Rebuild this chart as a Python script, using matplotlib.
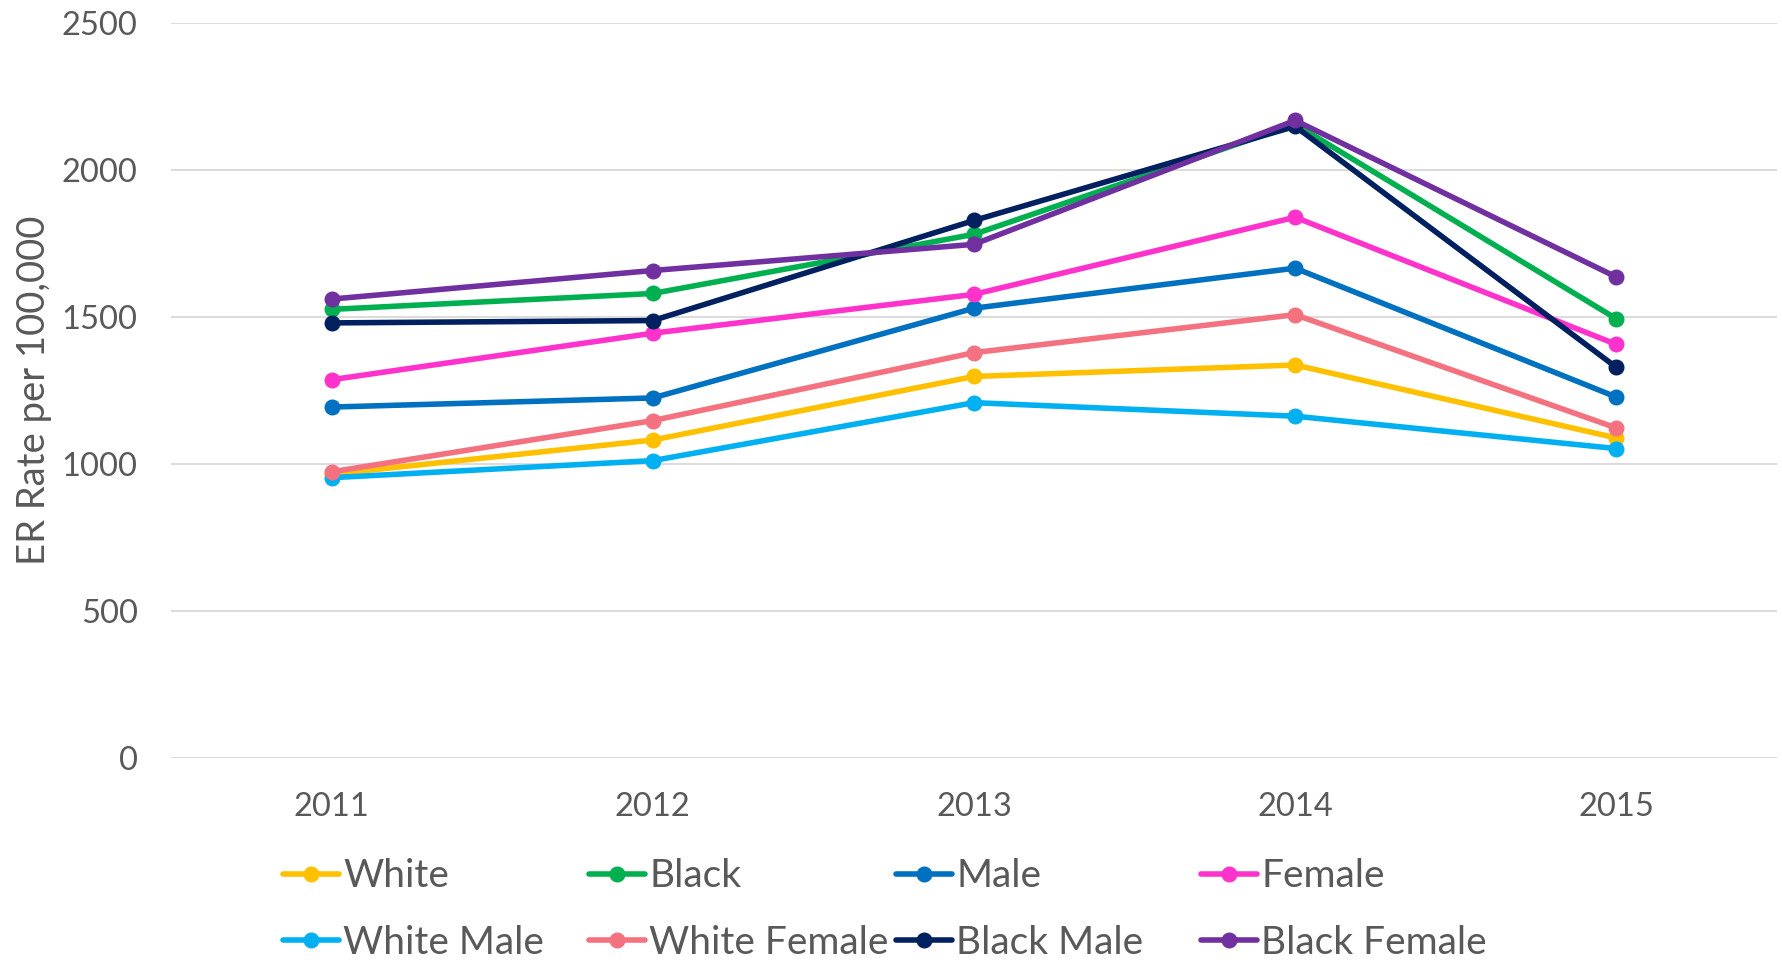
import matplotlib.pyplot as plt

years = ['2011', '2012', '2013', '2014', '2015']

white = [966, 1082, 1298, 1337, 1089]
black = [1526, 1580, 1781, 2155, 1494]
male = [1194, 1225, 1530, 1666, 1228]
female = [1287, 1445, 1577, 1839, 1407]
white_male = [954, 1012, 1209, 1163, 1053]
white_female = [974, 1148, 1379, 1508, 1123]
black_male = [1480, 1488, 1828, 2148, 1329]
black_female = [1561, 1658, 1747, 2168, 1636]

series = [
    ('White', white, '#FFC000'),
    ('Black', black, '#00B050'),
    ('Male', male, '#0070C0'),
    ('Female', female, '#FF33CC'),
    ('White Male', white_male, '#00B0F0'),
    ('White Female', white_female, '#F4717F'),
    ('Black Male', black_male, '#002060'),
    ('Black Female', black_female, '#7030A0'),
]

plt.rcParams['font.family'] = ['Lato', 'DejaVu Sans']
grey = '#595959'

fig = plt.figure(figsize=(17.83, 9.63), dpi=100)
ax = fig.add_axes([0.0959, 0.2124, 0.9007, 0.764])

x = list(range(len(years)))
handles = []
for name, vals, col in series:
    h, = ax.plot(x, vals, color=col, lw=4, marker='o', ms=10.5,
                 solid_capstyle='round', label=name)
    handles.append(h)

ax.set_xlim(-0.5, len(years) - 0.5)
ax.set_ylim(0, 2500)
ax.set_yticks([0, 500, 1000, 1500, 2000, 2500])
ax.set_xticks(x)
ax.set_xticklabels(years)
ax.grid(axis='y', color='#D9D9D9', lw=1.3)
ax.set_axisbelow(True)
for s in ax.spines.values():
    s.set_visible(False)
ax.tick_params(length=0, labelsize=23.5, labelcolor=grey)
ax.tick_params(axis='y', pad=24)
ax.tick_params(axis='x', pad=24)
ax.set_ylabel('ER Rate per 100,000', fontsize=27.5, color=grey, labelpad=7)

# legend: 4 columns, 2 rows, evenly spaced like the original
col_x = [0.1587, 0.3303, 0.5025, 0.6735]
for i, cx in enumerate(col_x):
    hs = [handles[i], handles[i + 4]]
    fig.legend(hs, [h.get_label() for h in hs], loc='center left',
               bbox_to_anchor=(cx, 0.0555), frameon=False, fontsize=28,
               labelcolor=grey, borderpad=0, borderaxespad=0,
               handlelength=1.45, handletextpad=0.1, labelspacing=0.78,
               numpoints=1)

fig.savefig('out.png', dpi=100)
